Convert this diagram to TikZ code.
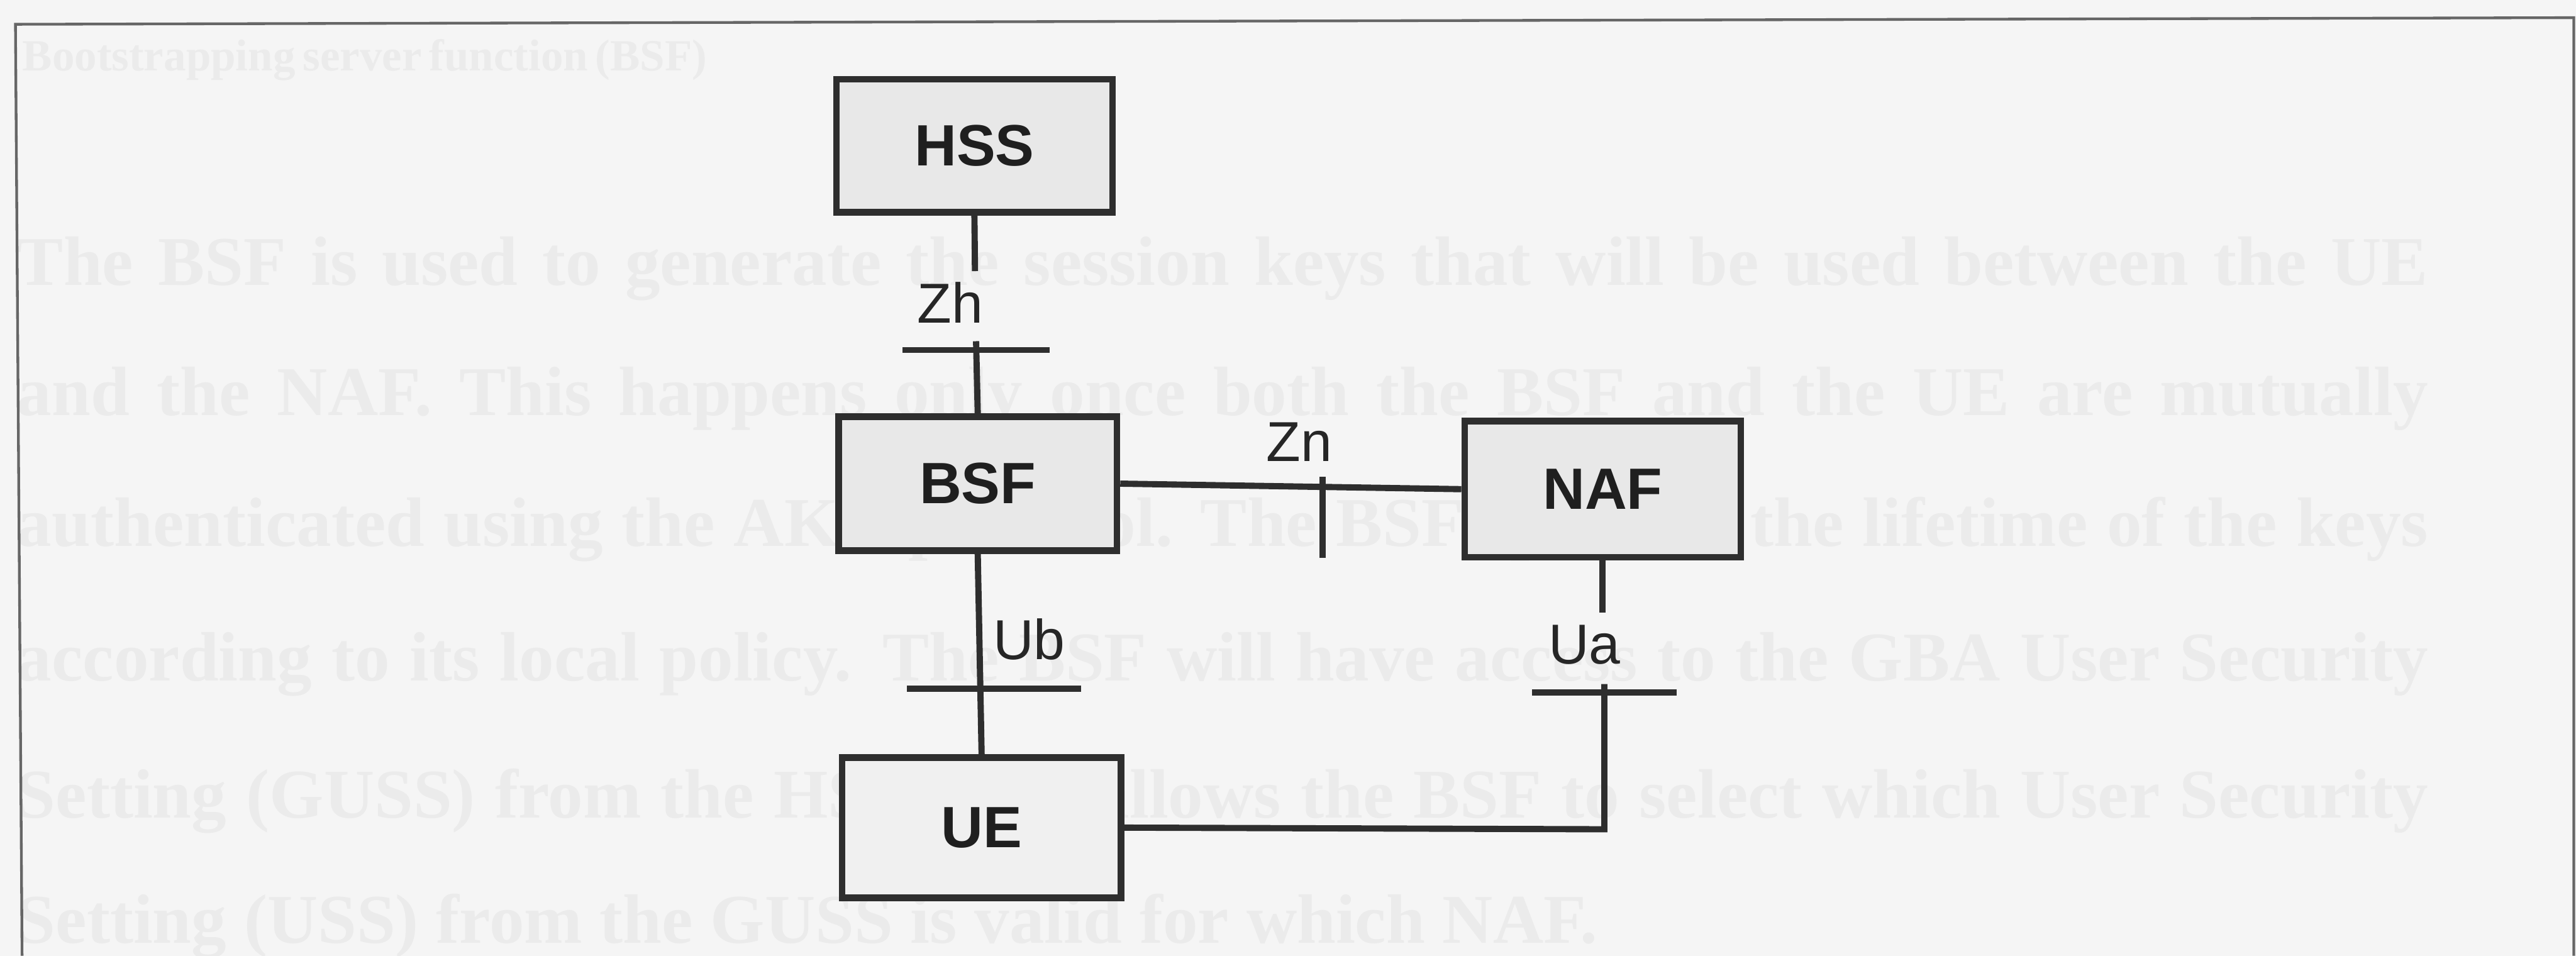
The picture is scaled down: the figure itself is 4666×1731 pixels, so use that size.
\documentclass[tikz,border=0pt]{standalone}
\usepackage{fontspec}
\setmainfont{Liberation Sans}
\newfontfamily\ghostfont{Liberation Serif}
\usetikzlibrary{calc}
\begin{document}
\begin{tikzpicture}[x=0.01cm,y=-0.01cm,
  ent/.style={draw=black!82, line width=3.4pt, fill=black!9, inner sep=0pt,
    font=\fontsize{30}{30}\selectfont\bfseries, text=black!88},
  wire/.style={draw=black!82, line width=3.2pt, line join=miter},
  ifl/.style={font=\fontsize{29}{29}\selectfont, text=black!85, inner sep=0pt},
  ghost/.style={font=\ghostfont\bfseries\fontsize{36}{36}\selectfont, text=black!8, inner sep=0pt, anchor=base west},
  framel/.style={draw=black!60, line width=1.4pt}
]
\useasboundingbox (0,0) rectangle (4666,1731);
\fill[black!4] (0,0) rectangle (4666,1731);

% faint show-through text of the scanned page
\node[ghost, font=\ghostfont\bfseries\fontsize{23}{23}\selectfont] (g0) at (40,128) {\makebox[12.3cm][s]{Bootstrapping server function (BSF)}};
\node[ghost] (g1) at (30,517) {\makebox[43.65cm][s]{The BSF is used to generate the session keys that will be used between the UE}};
\node[ghost] (g2) at (30,752) {\makebox[43.65cm][s]{and the NAF. This happens only once both the BSF and the UE are mutually}};
\node[ghost] (g3) at (30,989) {\makebox[43.65cm][s]{authenticated using the AKA protocol. The BSF specifies the lifetime of the keys}};
\node[ghost] (g4) at (30,1233) {\makebox[43.65cm][s]{according to its local policy. The BSF will have access to the GBA User Security}};
\node[ghost] (g5) at (30,1482) {\makebox[43.65cm][s]{Setting (GUSS) from the HSS. This allows the BSF to select which User Security}};
\node[ghost] (g6) at (30,1708) {Setting (USS) from the GUSS is valid for which NAF.};

% frame
\coordinate (fTL) at (28,44);
\coordinate (fTR) at (4662,32);
\coordinate (fBL) at (40,1731);
\coordinate (fBR) at (4662,1731);
\draw[framel] (fBL) -- (fTL) -- (fTR) -- (fBR);

% entities
\node[ent, minimum width=5.0cm, minimum height=2.41cm] (HSS) at (1765,264) {HSS};
\node[ent, minimum width=5.04cm, minimum height=2.43cm] (BSF) at (1771,876) {BSF};
\node[ent, fill=black!6, minimum width=5.05cm, minimum height=2.54cm] (UE) at (1778,1499) {UE};
\node[ent, minimum width=5.0cm, minimum height=2.46cm] (NAF) at (2903,886) {NAF};

% Zh
\coordinate (zhA) at (1766,491);
\coordinate (zhB) at (1768,618);
\draw[wire] (HSS.south) -- (zhA);
\draw[wire] (zhB) -- (BSF.north);
\node[ifl] (Zh) at (1721,548) {Zh};
\coordinate (zhT) at (1768,634);
\draw[wire] (zhT) ++(-133,0) -- ++(266,0);

% Zn
\draw[wire] (BSF.east) -- (NAF.west);
\node[ifl] (Zn) at (2353,800) {Zn};
\coordinate (znT) at (2396,864);
\draw[wire] (znT) -- ++(0,147);

% Ub
\draw[wire] (BSF.south) -- (UE.north);
\node[ifl] (Ub) at (1864,1158) {Ub};
\coordinate (ubT) at (1775,1247);
\draw[wire] (ubT) ++(-132,0) -- ++(315,0);

% Ua
\coordinate (uaA) at (2903,1109);
\draw[wire] (NAF.south) -- (uaA);
\node[ifl] (Ua) at (2870,1168) {Ua};
\coordinate (uaB) at (2906,1239);
\coordinate (uaC) at (2906,1502);
\draw[wire] (uaB) -- (uaC) -- (UE.east);
\coordinate (uaT) at (2906,1254);
\draw[wire] (uaT) ++(-131,0) -- ++(262,0);
\end{tikzpicture}
\end{document}
